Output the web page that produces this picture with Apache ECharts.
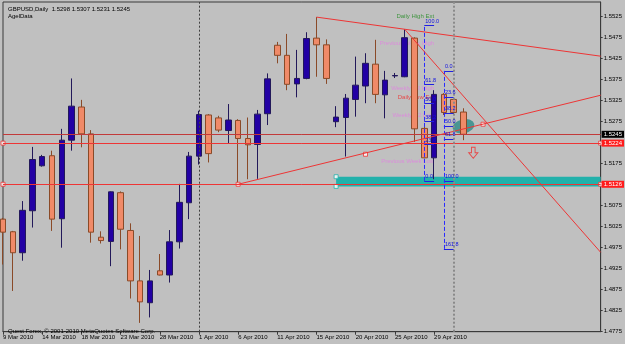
<!DOCTYPE html>
<html><head><meta charset="utf-8">
<script src="https://cdn.jsdelivr.net/npm/echarts@6/dist/echarts.min.js"></script>
<style>html,body{margin:0;padding:0;background:#c0c0c0}#c{width:625px;height:344px}</style>
</head><body><div id="c"></div>
<script>
// ---- data ----
const dates = ['9 Mar 2010','10 Mar 2010','11 Mar 2010','12 Mar 2010','14 Mar 2010','15 Mar 2010','16 Mar 2010','17 Mar 2010',
 '18 Mar 2010','19 Mar 2010','21 Mar 2010','22 Mar 2010','23 Mar 2010','24 Mar 2010','25 Mar 2010','26 Mar 2010',
 '28 Mar 2010','29 Mar 2010','30 Mar 2010','31 Mar 2010','1 Apr 2010','2 Apr 2010','4 Apr 2010','5 Apr 2010',
 '6 Apr 2010','7 Apr 2010','8 Apr 2010','9 Apr 2010','11 Apr 2010','12 Apr 2010','13 Apr 2010','14 Apr 2010',
 '15 Apr 2010','16 Apr 2010','18 Apr 2010','19 Apr 2010','20 Apr 2010','21 Apr 2010','22 Apr 2010','23 Apr 2010',
 '25 Apr 2010','26 Apr 2010','27 Apr 2010','28 Apr 2010','29 Apr 2010','30 Apr 2010','2 May 2010','3 May 2010'];
const opens  = [1.5043,1.5013,1.4963,1.5063,1.5170,1.5194,1.5044,1.5231,1.5310,1.5246,1.5000,1.4990,1.5106,1.5016,1.4896,1.4844,
 1.4920,1.4910,1.4989,1.5082,1.5193,1.5291,1.5284,1.5254,1.5278,1.5235,1.5221,1.5294,1.5457,1.5433,1.5365,1.5378,
 1.5474,1.5458,1.5275,1.5285,1.5328,1.5360,1.5412,1.5339,1.5384,1.5382,1.5474,1.5259,1.5189,1.5340,1.5328,1.5298];
const closes = [1.5012,1.4963,1.5064,1.5185,1.5192,1.5043,1.5231,1.5312,1.5246,1.5012,1.4992,1.5108,1.5019,1.4896,1.4846,1.4896,
 1.4910,1.4989,1.5083,1.5193,1.5292,1.5199,1.5255,1.5279,1.5235,1.5220,1.5293,1.5377,1.5433,1.5364,1.5378,1.5473,
 1.5458,1.5378,1.5286,1.5331,1.5362,1.5414,1.5340,1.5374,1.5385,1.5475,1.5258,1.5189,1.5340,1.5297,1.5297,1.5245];
const lows   = [1.4935,1.4872,1.4944,1.5023,1.5168,1.5015,1.4975,1.5206,1.5214,1.4987,1.4985,1.4931,1.4971,1.4854,1.4796,1.4809,
 1.4909,1.4892,1.4973,1.5043,1.5173,1.5178,1.5250,1.5222,1.5126,1.5138,1.5139,1.5267,1.5414,1.5350,1.5333,1.5376,
 1.5382,1.5365,1.5262,1.5192,1.5287,1.5319,1.5319,1.5283,1.5379,1.5381,1.5227,1.5188,1.5138,1.5291,1.5291,1.5231];
const highs  = [1.5046,1.5015,1.5086,1.5215,1.5196,1.5206,1.5258,1.5378,1.5327,1.5255,1.5014,1.5109,1.5109,1.5033,1.5003,1.4922,
 1.4960,1.5017,1.5127,1.5203,1.5301,1.5293,1.5289,1.5317,1.5281,1.5285,1.5303,1.5390,1.5465,1.5484,1.5446,1.5488,
 1.5524,1.5471,1.5312,1.5341,1.5430,1.5438,1.5470,1.5396,1.5391,1.5495,1.5476,1.5264,1.5350,1.5343,1.5329,1.5307];
const shiftSlots = 14;                 // empty bars of chart shift on the right
const yMin = 1.4775, yMax = 1.5560, yStep = 0.005;

// horizontal price lines and their right-hand tags
const hLinePrices = [1.5245, 1.5224, 1.5126];
const hLineTags   = ['1.5245', '1.5224', '1.5126'];
// trend lines: from (bar, price) to (bar, price)
const trendFromBar   = [32, 41, 24];
const trendFromPrice = [1.5524, 1.5495, 1.5126];
const trendToBar     = [61, 61, 61];
const trendToPrice   = [1.5431, 1.4964, 1.5338];
// anchor points of selected objects
const anchorBars   = [0, 61, 0, 61, 24, 36.5, 49];
const anchorPrices = [1.5224, 1.5224, 1.5126, 1.5126, 1.5126, 1.51975, 1.5269];
// period separators (first bar of a month)
const separatorBars = [20, 46];
// zone rectangle
const zoneFromBar = 34, zoneTop = 1.5144, zoneBottom = 1.5121;
// fibonacci retracements
const fib1Bar = 43, fib1Zero = 1.5134, fib1Hundred = 1.5505, fib1Levels = [0, 23.6, 38.2, 50, 61.8, 100];
const fib2Bar = 45, fib2Zero = 1.5396, fib2Hundred = 1.5134, fib2Levels = [0, 23.6, 38.2, 50, 61.8, 100, 161.8];
// text objects
const noteTexts  = ['Daily High Ext', 'Previous Week High', 'Weekly D2 High', 'Daily Low Ext', 'Weekly D2 Low', 'Previous Week Low'];
const noteBars   = [44, 44, 44, 44, 44, 44];
const notePrices = [1.5527, 1.5462, 1.5355, 1.5334, 1.5289, 1.5181];
const noteKinds  = ['green', 'violet', 'violet', 'red', 'violet', 'violet'];
const ellipseBar = 47, ellipsePrice = 1.5264;
const arrowBar = 48, arrowPrice = 1.5201;

// ---- chart ----
const FONT = 'Liberation Sans, Arial, sans-serif';
const cats = dates.concat(Array.from({length: shiftSlots}, (_, k) => 'shift' + (k + 1)));
const lastIdx = cats.length - 1;
const showIdx = (i) => i < dates.length && i % 4 === 0;
const RED = '#ee3535';
const noteColor = {green: '#1f8a1f', violet: '#e27ee2', red: '#f02828'};

const fibLines = [];
function addFib(bar, zero, hundred, levels) {
  levels.forEach(r => {
    const p = zero + r / 100 * (hundred - zero);
    fibLines.push([{coord: [bar, p]}, {coord: [bar + 1, p],
      label: {show: true, formatter: r.toFixed(1), position: 'insideStartTop', distance: 1,
        color: '#1010e0', fontSize: 5.5, fontFamily: FONT},
      lineStyle: {color: '#2020e0', type: 'solid', width: 1}}]);
  });
  const lo = zero + Math.max(...levels) / 100 * (hundred - zero);
  fibLines.push([{coord: [bar, zero]}, {coord: [bar, lo], label: {show: false},
    lineStyle: {color: '#2a2aff', type: 'dashed', width: 1}}]);
}
addFib(fib1Bar, fib1Zero, fib1Hundred, fib1Levels);
addFib(fib2Bar, fib2Zero, fib2Hundred, fib2Levels);

const hLineStyles = [
  {lineStyle: {color: '#c23a3a', width: 1, type: 'solid'}, bg: '#000000'},
  {lineStyle: {color: RED, width: 1, type: 'solid'}, bg: '#ff1c1c'},
  {lineStyle: {color: RED, width: 1, type: 'solid'}, bg: '#ff1c1c'}
];
const lineData = [];
hLinePrices.forEach((p, i) => lineData.push([{coord: [0, p]}, {coord: [lastIdx, p],
  lineStyle: hLineStyles[i].lineStyle,
  label: {show: true, position: 'end', distance: 1, formatter: hLineTags[i], color: '#fff',
    backgroundColor: hLineStyles[i].bg, padding: [1, 2, 0, 2], fontSize: 6, fontFamily: FONT}}]));
trendFromBar.forEach((b, i) => lineData.push([{coord: [b, trendFromPrice[i]]},
  {coord: [trendToBar[i], trendToPrice[i]], lineStyle: {color: RED, width: 1, type: 'solid'}, label: {show: false}}]));
separatorBars.forEach((b, i) => lineData.push([{coord: [b, yMin]}, {coord: [b, yMax], label: {show: false},
  lineStyle: i === 0 ? {color: '#404040', type: [2, 2], width: 1} : {color: '#8a8a8a', type: [2, 2], width: 2}}]));

const option = {
  animation: false,
  backgroundColor: '#c0c0c0',
  title: [
    {text: 'GBPUSD,Daily  1.5298 1.5307 1.5231 1.5245', left: 3, top: 1,
     textStyle: {fontSize: 6, fontWeight: 'normal', color: '#000', fontFamily: FONT},
     subtext: 'AgelData', itemGap: 1, subtextStyle: {fontSize: 6, color: '#000', fontFamily: FONT}},
    {text: 'Quest Forex, © 2001-2010 MetaQuotes Software Corp.', left: 3, top: 323,
     textStyle: {fontSize: 6, fontWeight: 'normal', color: '#000', fontFamily: FONT}}
  ],
  grid: {left: 3, right: 24, top: 2, bottom: 12.3, show: true, borderColor: '#3a3a3a', borderWidth: 1},
  xAxis: {
    type: 'category', data: cats, boundaryGap: false,
    axisLine: {lineStyle: {color: '#3a3a3a'}},
    axisTick: {show: true, interval: showIdx, length: 3, lineStyle: {color: '#3a3a3a'}},
    axisLabel: {interval: showIdx, align: 'left', margin: 3, fontSize: 6, color: '#000', fontFamily: FONT},
    splitLine: {show: false}
  },
  yAxis: {
    type: 'value', position: 'right', min: yMin, max: yMax, interval: yStep,
    axisLine: {show: true, lineStyle: {color: '#3a3a3a'}},
    axisTick: {show: true, length: 2, lineStyle: {color: '#3a3a3a'}},
    axisLabel: {formatter: v => v.toFixed(4), margin: 3, fontSize: 6, color: '#000', fontFamily: FONT,
      showMaxLabel: false},
    splitLine: {show: false}
  },
  series: [
    { type: 'scatter', z: 1, silent: true,
      data: [[ellipseBar, ellipsePrice]], symbol: 'circle', symbolSize: [22, 14], symbolRotate: 12,
      itemStyle: {color: '#2a8a87'},
      markArea: {silent: true, itemStyle: {color: '#22b1ab'},
        data: [[{coord: [zoneFromBar, zoneTop]}, {coord: [lastIdx, zoneBottom]}]]},
      markLine: {silent: true, symbol: 'none', data: fibLines, animation: false}
    },
    { type: 'scatter', z: 2, silent: true, symbolSize: 0,
      data: noteTexts.map((t, i) => ({value: [noteBars[i], notePrices[i]], name: t,
        label: {color: noteColor[noteKinds[i]]}})),
      label: {show: true, position: 'left', distance: 0, formatter: p => p.name, fontSize: 6, fontFamily: FONT}
    },
    { type: 'candlestick', z: 3, barWidth: 6, clip: false,
      data: opens.map((o, i) => [o, closes[i], lows[i], highs[i]]),
      itemStyle: {color: '#2200a4', color0: '#f08a68', borderColor: '#22185a', borderColor0: '#8a4a28', borderWidth: 1}
    },
    { type: 'scatter', z: 4, silent: true,
      data: anchorBars.map((b, i) => [b, anchorPrices[i]]),
      symbol: 'rect', symbolSize: 4, itemStyle: {color: '#ffffff', borderColor: RED, borderWidth: 1},
      markLine: {silent: true, symbol: 'none', data: lineData, animation: false}
    },
    { type: 'scatter', z: 4, silent: true,
      data: [[zoneFromBar, zoneTop], [zoneFromBar, zoneBottom]],
      symbol: 'rect', symbolSize: 4, itemStyle: {color: '#ffffff', borderColor: '#22b1ab', borderWidth: 1}
    },
    { type: 'scatter', z: 4, silent: true,
      data: [[arrowBar, arrowPrice]],
      symbol: 'path://M3,0 L7,0 L7,6 L10,6 L5,12 L0,6 L3,6 Z', symbolSize: [9, 11],
      itemStyle: {color: 'rgba(0,0,0,0)', borderColor: '#f02828', borderWidth: 1}
    }
  ]
};
const chart = echarts.init(document.getElementById('c'));
chart.setOption(option);
</script></body></html>
